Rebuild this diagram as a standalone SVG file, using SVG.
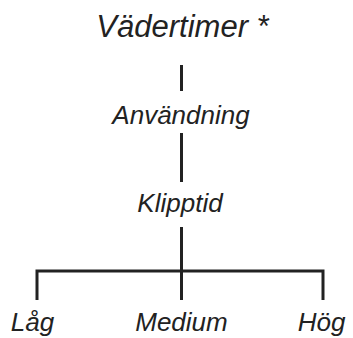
<svg xmlns="http://www.w3.org/2000/svg" width="353" height="338" viewBox="0 0 353 338">
<style>
.t{font-family:"Liberation Sans",Arial,sans-serif;font-style:italic;fill:#222;text-anchor:middle}
.c{stroke:#222;stroke-width:3;fill:none}
</style>
<rect width="353" height="338" fill="#fff"/>
<g id="connectors">
<line class="c" x1="181.5" y1="65" x2="181.5" y2="91"/>
<line class="c" x1="181.5" y1="133" x2="181.5" y2="182"/>
<path class="c" d="M181.5 227V271M37 300V271H323V300M181.5 271V300"/>
</g>
<g id="vadertimer"><text class="t" x="182.5" y="37" font-size="31">Vädertimer *</text></g>
<g id="anvandning"><text class="t" x="181" y="124" font-size="26">Användning</text></g>
<g id="klipptid"><text class="t" x="180" y="212" font-size="26">Klipptid</text></g>
<g id="lag"><text class="t" x="32.5" y="331" font-size="26">Låg</text></g>
<g id="medium"><text class="t" x="181.5" y="331" font-size="26">Medium</text></g>
<g id="hog"><text class="t" x="321.5" y="331" font-size="26">Hög</text></g>
</svg>
